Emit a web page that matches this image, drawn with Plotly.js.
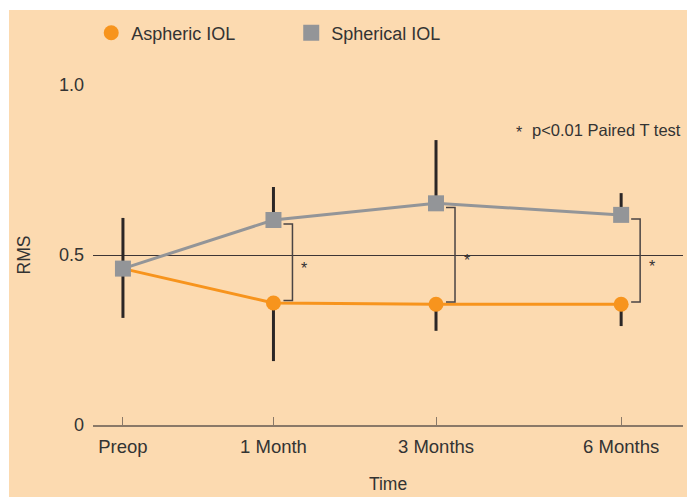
<!DOCTYPE html>
<html><head><meta charset="utf-8">
<script src="https://cdn.plot.ly/plotly-3.0.1.min.js"></script>
<style>
html,body{margin:0;padding:0;background:#fff;width:687px;height:497px;overflow:hidden}
#chart{position:absolute;left:9px;top:10px;width:678px;height:487px}
</style>
</head><body><div id="chart"></div>
<script>
const categories = ['Preop', '1 Month', '3 Months', '6 Months'];
const timePos = [0, 1, 2.08, 3.31];
const asphericRMS = [0.46, 0.359, 0.355, 0.355];
const asphericErrMinus = [0.145, 0.171, 0.078, 0.064];
const sphericalRMS = [0.46, 0.603, 0.652, 0.618];
const sphericalErrPlus = [0.149, 0.097, 0.186, 0.064];
const significant = [false, true, true, true];

const orange = '#F7941D';
const grey = '#939598';
const ink = '#2b2626';
const peach = '#FCDAB0';
const zeros = timePos.map(() => 0);

const traces = [
  {x: timePos, y: asphericRMS, mode: 'lines', line: {color: orange, width: 3},
   showlegend: false, hoverinfo: 'skip'},
  {x: timePos, y: asphericRMS, mode: 'markers', name: 'Aspheric IOL',
   marker: {color: orange, size: 15, symbol: 'circle'},
   error_y: {type: 'data', symmetric: false, array: zeros, arrayminus: asphericErrMinus,
             color: ink, thickness: 3, width: 0}},
  {x: timePos, y: sphericalRMS, mode: 'lines', line: {color: grey, width: 3},
   showlegend: false, hoverinfo: 'skip'},
  {x: timePos, y: sphericalRMS, mode: 'markers', name: 'Spherical IOL',
   marker: {color: grey, size: 16, symbol: 'square'},
   error_y: {type: 'data', symmetric: false, array: sphericalErrPlus, arrayminus: zeros,
             color: ink, thickness: 3, width: 0}}
];

const shapes = [];
const annotations = [
  {xref: 'paper', yref: 'paper', x: 1.0, y: 0.868, xanchor: 'right', yanchor: 'middle',
   text: 'p<0.01 Paired T test', showarrow: false,
   font: {family: 'Liberation Sans, Arial, sans-serif', size: 16.5, color: '#333'}},
  {xref: 'paper', yref: 'paper', x: 0.722, y: 0.86, xanchor: 'center', yanchor: 'middle',
   text: '*', showarrow: false,
   font: {family: 'Liberation Sans, Arial, sans-serif', size: 16, color: '#333'}}
];
timePos.forEach((xp, i) => {
  if (!significant[i]) return;
  const top = sphericalRMS[i] - 0.012;
  const bot = asphericRMS[i] + 0.007;
  shapes.push({type: 'path', xref: 'x', yref: 'y', xsizemode: 'pixel', xanchor: xp,
    path: `M 10,${top} H 19 V ${bot} H 10`,
    line: {color: '#4a4444', width: 1.5}});
  annotations.push({xref: 'x', yref: 'y', x: xp, xshift: 31,
    y: (sphericalRMS[i] + asphericRMS[i]) / 2, yshift: -7,
    text: '*', showarrow: false,
    font: {family: 'Liberation Sans, Arial, sans-serif', size: 16, color: '#333'}});
});

const layout = {
  width: 678, height: 487,
  margin: {l: 84, r: 4, t: 75, b: 72},
  paper_bgcolor: peach, plot_bgcolor: peach,
  font: {family: 'Liberation Sans, Arial, sans-serif', color: '#333'},
  showlegend: true,
  legend: {orientation: 'h', x: -0.003, y: 1.153, xanchor: 'left', yanchor: 'middle',
           entrywidth: 155, entrywidthmode: 'pixels', bgcolor: 'rgba(0,0,0,0)',
           font: {size: 18, color: '#333'}},
  xaxis: {range: [-0.199, 3.721], tickmode: 'array', tickvals: timePos, ticktext: categories,
          ticks: 'inside', ticklen: 8, tickwidth: 1, tickcolor: '#8a7968',
          showline: true, linecolor: '#8a7968', linewidth: 1.5, ticklabelstandoff: 4,
          showgrid: false, zeroline: false, tickfont: {size: 18.5, color: '#333'},
          title: {text: 'Time', font: {size: 17.5, color: '#333'}, standoff: 22}},
  yaxis: {range: [0, 1], tickmode: 'array', tickvals: [0, 0.5, 1], ticktext: ['0', '0.5', '1.0'],
          showgrid: true, gridcolor: '#3d3535', gridwidth: 1, zeroline: false,
          showline: false, ticks: '', ticklabelstandoff: 8, tickfont: {size: 18, color: '#333'},
          title: {text: 'RMS', font: {size: 17.5, color: '#333'}, standoff: 23}},
  shapes: shapes,
  annotations: annotations
};

Plotly.newPlot('chart', traces, layout, {displayModeBar: false, staticPlot: true});
</script>
</body></html>
